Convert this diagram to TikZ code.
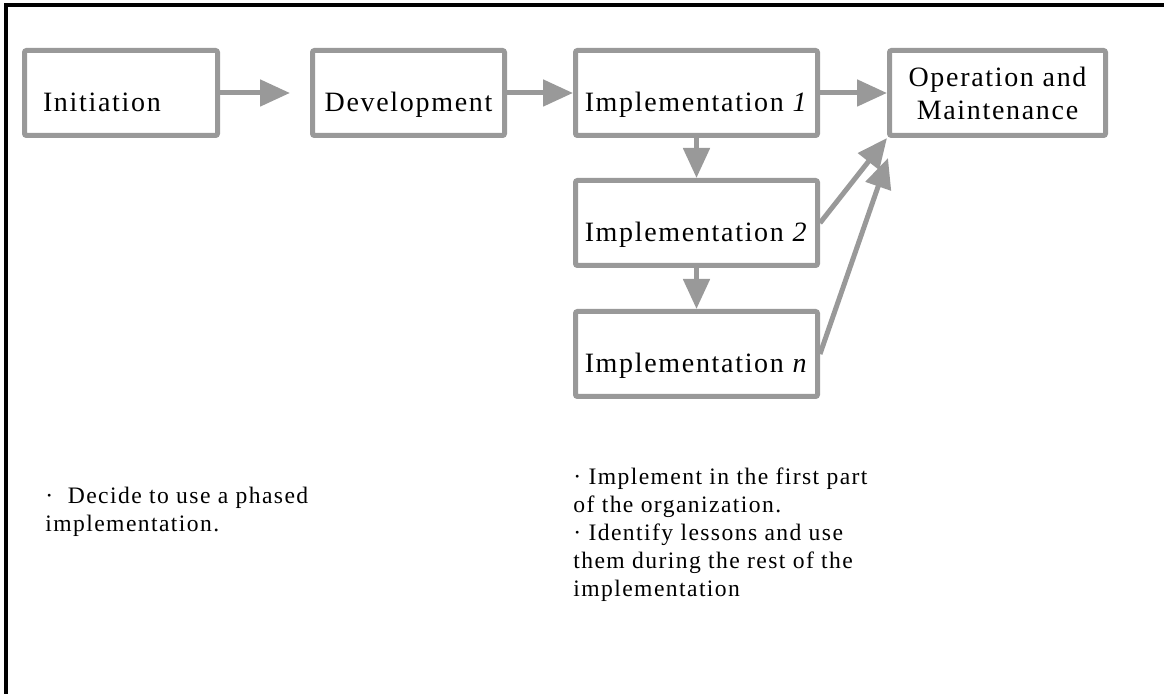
\documentclass[tikz,border=0pt]{standalone}
\usepackage{fontspec}
\setmainfont[LetterSpace=6]{Liberation Serif}
\definecolor{linegray}{RGB}{153,153,153}
\usetikzlibrary{positioning,arrows.meta,calc}

\begin{document}
\begin{tikzpicture}[
    x=0.5pt,y=-0.5pt,
    box/.style={rectangle,draw=linegray,line width=2.5pt,rounded corners=1pt,fill=white,inner sep=0pt,
        text height=30.75pt,text depth=11.75pt,font=\fontsize{14pt}{16.5pt}\selectfont},
    arrow/.style={-{Triangle[length=15pt,width=13pt]},line width=2.5pt,linegray},
    note/.style={align=left,inner sep=0pt,font=\fontsize{11.8pt}{14pt}\selectfont}
]
    \useasboundingbox (0,0) rectangle (1164,694);
    \draw[line width=2pt] (1164,5.5) -| (6,694);

    \node[box,align=left,text width=78pt,inner xsep=9.25pt] (init) at (121,93) {Initiation};
    \node[box,minimum width=96pt] (dev) at (408.5,93) {Development};
    \node[box,minimum width=121pt] (implone) at (696.5,93) {Implementation \textit{1}};
    \node[box,minimum width=121pt] (impltwo) at (696.5,223) {Implementation \textit{2}};
    \node[box,minimum width=121pt] (impln) at (696.5,354) {Implementation \textit{n}};
    \node[box,text height=,text depth=,minimum width=108pt,minimum height=42.5pt,align=center] (opm) at (997.5,93)
        {Operation and\\Maintenance};
    \coordinate (opmin) at (888,158);

    \draw[arrow,shorten >=10pt] (init) -- (dev);
    \draw[arrow] (dev) -- (implone);
    \draw[arrow] (implone) -- (opm);
    \draw[arrow] (implone) -- (impltwo);
    \draw[arrow] (impltwo) -- (impln);
    \draw[arrow] (impltwo.east) -- (opm.south west);
    \draw[arrow] (impln.east) -- (opmin);

    \node[note,anchor=north west] (phased) at (45,487) {·\ \ Decide to use a phased\\implementation.};
    \node[note,anchor=north west] (lessons) at (573,467) {· Implement in the first part\\of the organization.\\· Identify lessons and use\\them during the rest of the\\implementation};
\end{tikzpicture}
\end{document}
